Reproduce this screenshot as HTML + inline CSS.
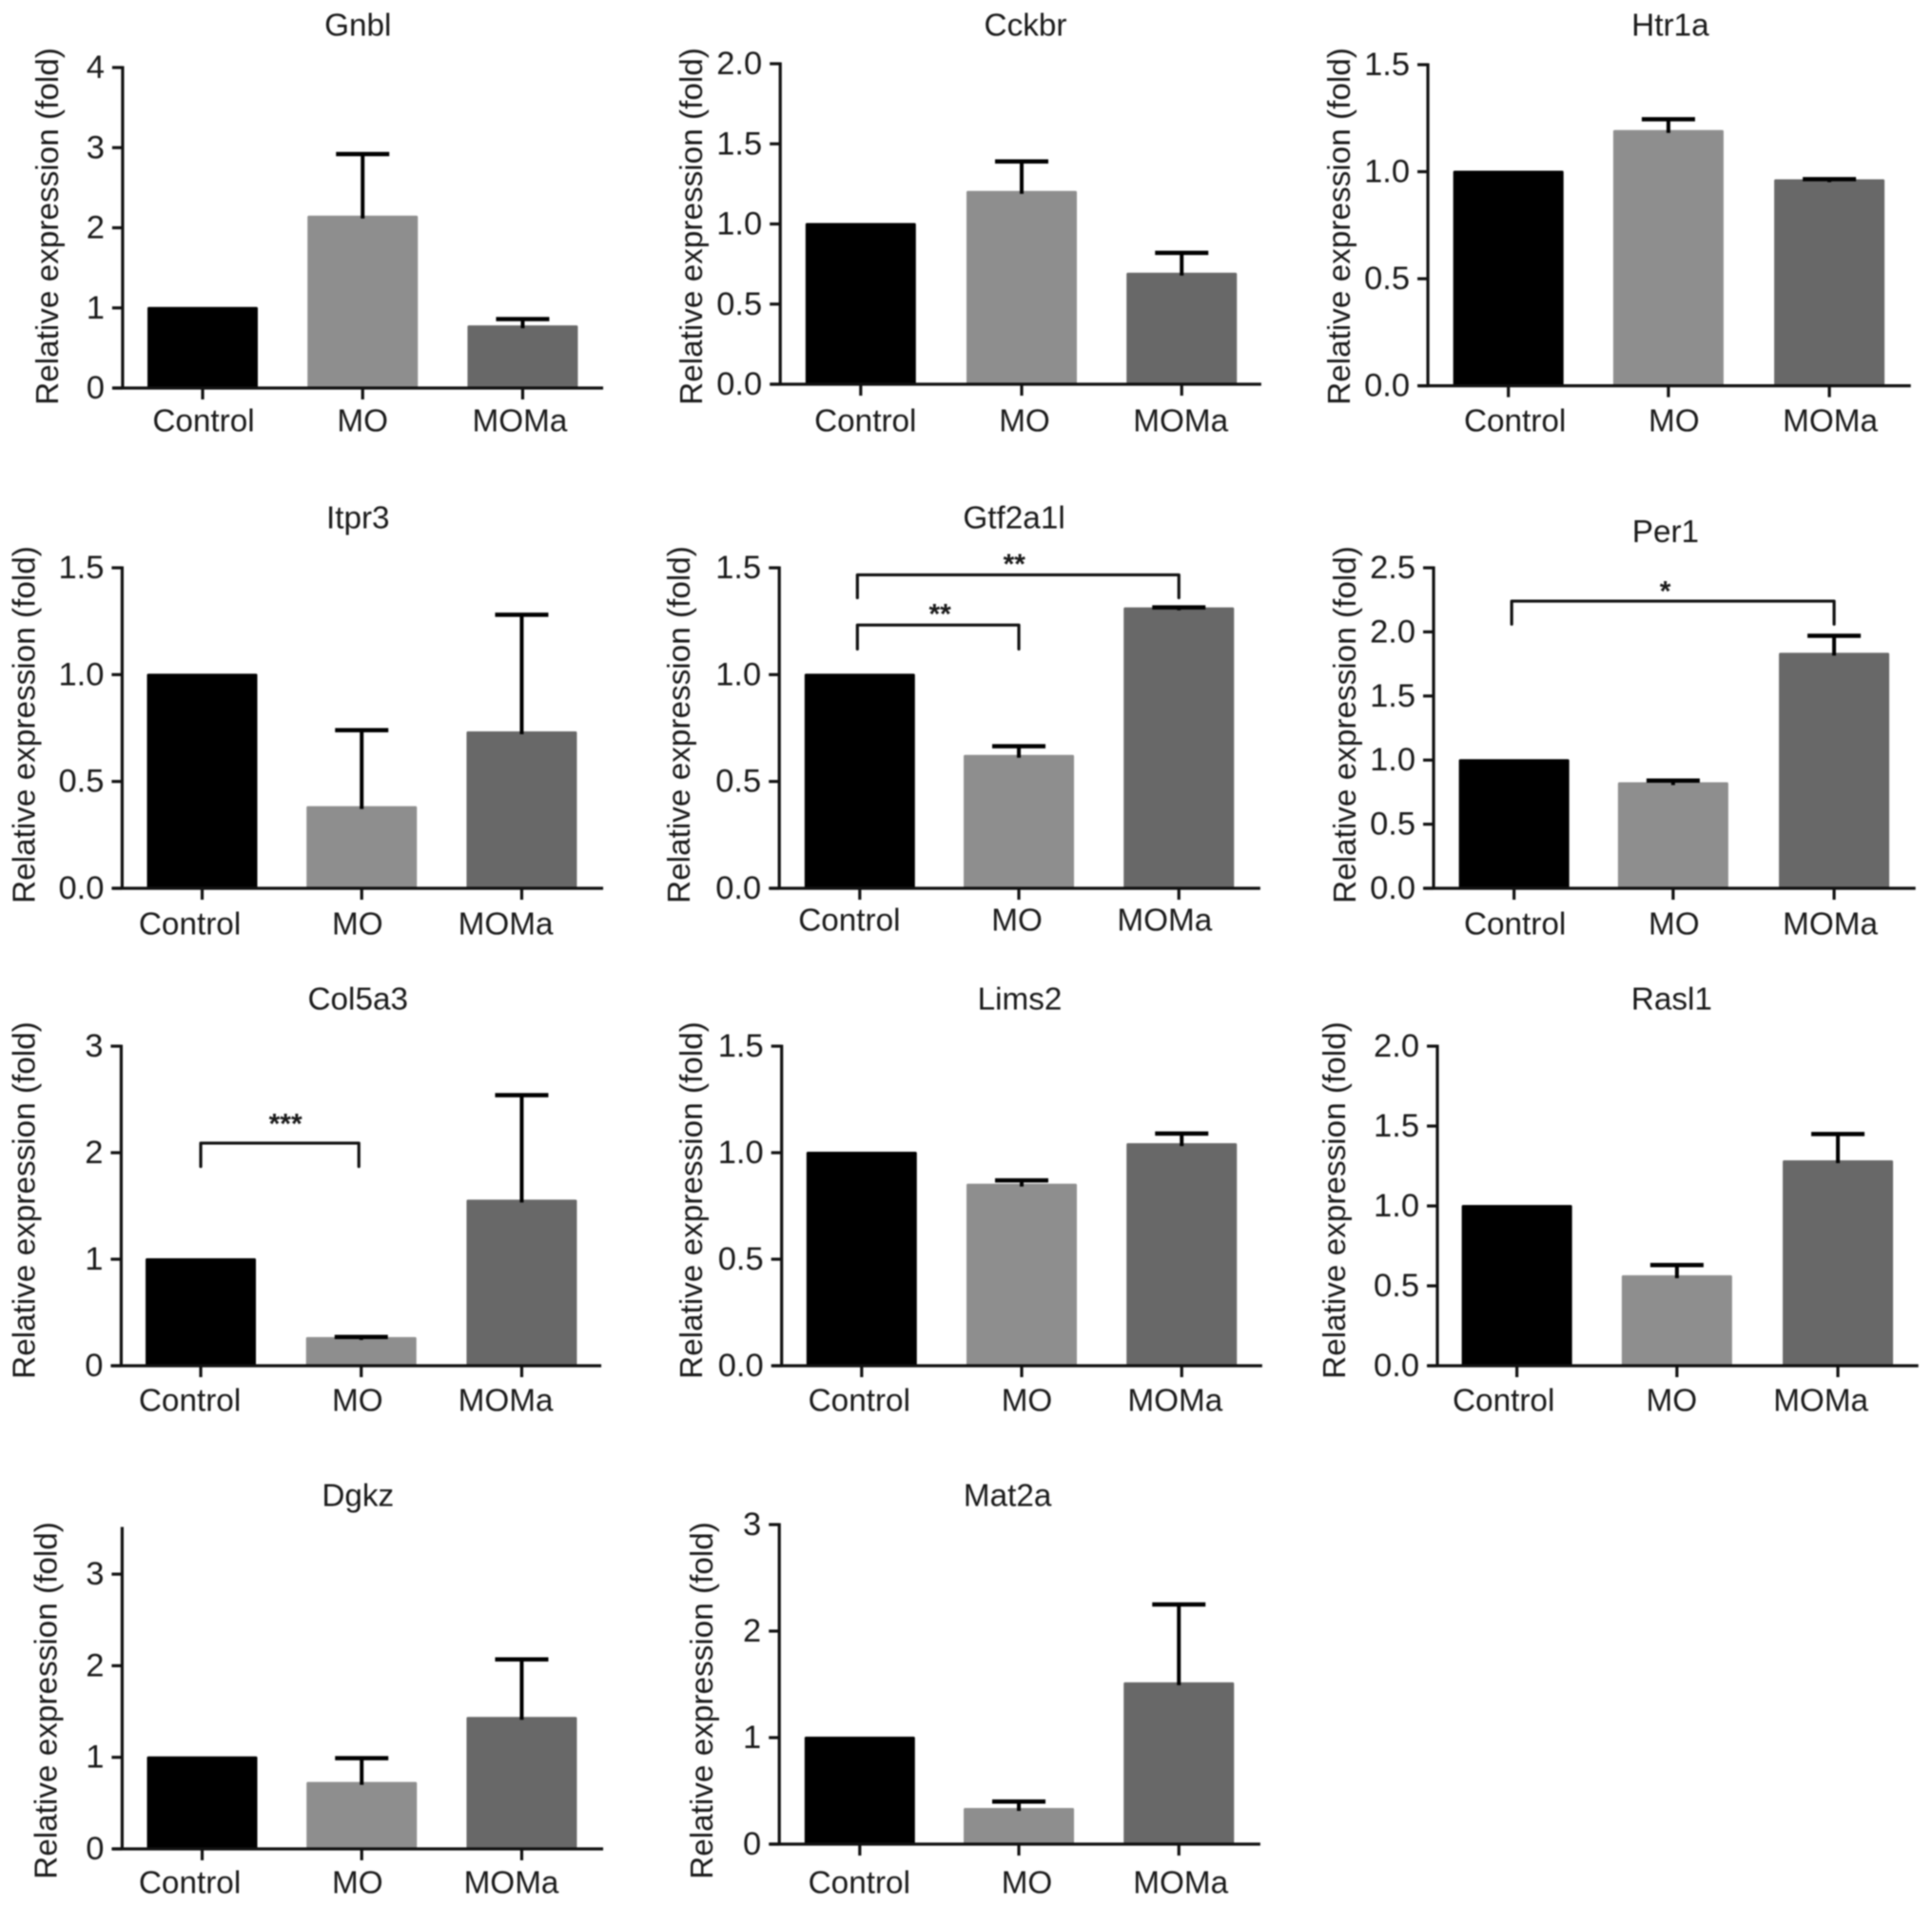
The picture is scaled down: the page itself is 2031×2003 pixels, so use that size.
<!DOCTYPE html>
<html lang="en">
<head>
<meta charset="utf-8">
<title>Relative expression bar charts</title>
<style>
html,body{margin:0;padding:0;background:#fff;width:2031px;height:2003px;overflow:hidden}
svg{display:block;filter:blur(0.7px)}
text{font-family:"Liberation Sans",Arial,sans-serif;fill:#1a1a1a}
</style>
</head>
<body>
<svg id="figure" xmlns="http://www.w3.org/2000/svg" width="2031" height="2003" viewBox="0 0 2031 2003"></svg>
<script>
const categories = ['Control', 'MO', 'MOMa'];
const barColors = ['#000000', '#8e8e8e', '#686868'];

const gnblValues = [1, 2.14, 0.77];
const gnblErrorTops = [null, 2.92, 0.86];
const gnblTicks = [0, 1, 2, 3, 4];

const cckbrValues = [1, 1.2, 0.69];
const cckbrErrorTops = [null, 1.39, 0.82];
const cckbrTicks = ['0.0', '0.5', '1.0', '1.5', '2.0'];

const htr1aValues = [1, 1.19, 0.96];
const htr1aErrorTops = [null, 1.245, 0.965];
const htr1aTicks = ['0.0', '0.5', '1.0', '1.5'];

const itpr3Values = [1, 0.38, 0.73];
const itpr3ErrorTops = [null, 0.74, 1.28];
const itpr3Ticks = ['0.0', '0.5', '1.0', '1.5'];

const gtf2a1lValues = [1, 0.62, 1.31];
const gtf2a1lErrorTops = [null, 0.665, 1.315];
const gtf2a1lTicks = ['0.0', '0.5', '1.0', '1.5'];

const per1Values = [1, 0.82, 1.83];
const per1ErrorTops = [null, 0.84, 1.97];
const per1Ticks = ['0.0', '0.5', '1.0', '1.5', '2.0', '2.5'];

const col5a3Values = [1, 0.26, 1.55];
const col5a3ErrorTops = [null, 0.27, 2.54];
const col5a3Ticks = [0, 1, 2, 3];

const lims2Values = [1, 0.85, 1.04];
const lims2ErrorTops = [null, 0.87, 1.09];
const lims2Ticks = ['0.0', '0.5', '1.0', '1.5'];

const rasl1Values = [1, 0.56, 1.28];
const rasl1ErrorTops = [null, 0.63, 1.45];
const rasl1Ticks = ['0.0', '0.5', '1.0', '1.5', '2.0'];

const dgkzValues = [1, 0.72, 1.43];
const dgkzErrorTops = [null, 0.99, 2.07];
const dgkzTicks = [0, 1, 2, 3];

const mat2aValues = [1, 0.33, 1.51];
const mat2aErrorTops = [null, 0.4, 2.25];
const mat2aTicks = [0, 1, 2, 3];

const gtf2a1lBrackets = [
  {from: 0, to: 2, level: 1.467, low: 1.36, stars: '**'},
  {from: 0, to: 1, level: 1.232, low: 1.12, stars: '**'}
];
const per1Brackets = [
  {from: 0, to: 2, level: 2.24, low: 2.06, stars: '*'}
];
const col5a3Brackets = [
  {from: 0, to: 1, level: 2.09, low: 1.87, stars: '***'}
];

const panels = [
  {title: 'Gnbl', slug: 'gnbl', values: gnblValues, errs: gnblErrorTops, ticks: gnblTicks, max: 4,
   ax: 129.5, base: 408, top: 71, right: 637, centers: [214, 383, 552],
   lab: [215, 383, 549], labY: 442, titleX: 378, titleY: 26, ylX: 49.5, ylY: 238},
  {title: 'Cckbr', slug: 'cckbr', values: cckbrValues, errs: cckbrErrorTops, ticks: cckbrTicks, max: 2,
   ax: 824, base: 404, top: 67, right: 1332, centers: [909, 1079, 1248],
   lab: [914, 1082, 1247], labY: 442, titleX: 1083, titleY: 26, ylX: 730, ylY: 238},
  {title: 'Htr1a', slug: 'htr1a', values: htr1aValues, errs: htr1aErrorTops, ticks: htr1aTicks, max: 1.5,
   ax: 1508, base: 405.6, top: 68, right: 2018, centers: [1593, 1762, 1932],
   lab: [1600, 1768, 1933], labY: 442, titleX: 1764, titleY: 26, ylX: 1414, ylY: 238},
  {title: 'Itpr3', slug: 'itpr3', values: itpr3Values, errs: itpr3ErrorTops, ticks: itpr3Ticks, max: 1.5,
   ax: 129, base: 934, top: 597, right: 637, centers: [213.5, 382, 551],
   lab: [200.5, 377.6, 534], labY: 971, titleX: 378, titleY: 544, ylX: 25, ylY: 762},
  {title: 'Gtf2a1l', slug: 'gtf2a1l', values: gtf2a1lValues, errs: gtf2a1lErrorTops, ticks: gtf2a1lTicks, max: 1.5,
   ax: 823, base: 934, top: 597, right: 1331, centers: [908, 1076, 1245], brackets: gtf2a1lBrackets,
   starOffsets: [[-4, 18], [2, 18]], bracketInset: [-2.5, 0],
   lab: [897, 1074, 1230], labY: 967, titleX: 1071, titleY: 544, ylX: 717, ylY: 762},
  {title: 'Per1', slug: 'per1', values: per1Values, errs: per1ErrorTops, ticks: per1Ticks, max: 2.5,
   ax: 1514, base: 934, top: 597, right: 2023, centers: [1599, 1767, 1937], brackets: per1Brackets,
   starOffsets: [[-8, 17]], bracketInset: [-2.5, 0],
   lab: [1600, 1768, 1933], labY: 971, titleX: 1759, titleY: 558.6, ylX: 1420, ylY: 762},
  {title: 'Col5a3', slug: 'col5a3', values: col5a3Values, errs: col5a3ErrorTops, ticks: col5a3Ticks, max: 3,
   ax: 128, base: 1436, top: 1100, right: 635, centers: [212, 381.5, 551], brackets: col5a3Brackets,
   starOffsets: [[6, 27]], bracketInset: [0, -2.5],
   lab: [200.5, 377.6, 534], labY: 1472, titleX: 378, titleY: 1050, ylX: 25, ylY: 1262},
  {title: 'Lims2', slug: 'lims2', values: lims2Values, errs: lims2ErrorTops, ticks: lims2Ticks, max: 1.5,
   ax: 825.5, base: 1436, top: 1100, right: 1333, centers: [910, 1079, 1248],
   lab: [907.5, 1084.5, 1241], labY: 1472, titleX: 1077, titleY: 1050, ylX: 730, ylY: 1262},
  {title: 'Rasl1', slug: 'rasl1', values: rasl1Values, errs: rasl1ErrorTops, ticks: rasl1Ticks, max: 2,
   ax: 1518, base: 1436, top: 1100, right: 2026, centers: [1602, 1771, 1941],
   lab: [1588, 1765.5, 1923], labY: 1472, titleX: 1765.5, titleY: 1050, ylX: 1409, ylY: 1262},
  {title: 'Dgkz', slug: 'dgkz', values: dgkzValues, errs: dgkzErrorTops, ticks: dgkzTicks, max: 3.5,
   ax: 129, base: 1944, top: 1607, right: 637, centers: [213.5, 382, 551],
   lab: [200.5, 377.6, 540], labY: 1979, titleX: 378, titleY: 1572, ylX: 48, ylY: 1788},
  {title: 'Mat2a', slug: 'mat2a', values: mat2aValues, errs: mat2aErrorTops, ticks: mat2aTicks, max: 3,
   ax: 823, base: 1939, top: 1603, right: 1331, centers: [908, 1076, 1245],
   lab: [907.5, 1084.5, 1247], labY: 1979, titleX: 1064, titleY: 1572, ylX: 741, ylY: 1788}
];

const NS = 'http://www.w3.org/2000/svg';
const svg = document.getElementById('figure');
const FONT = 33.3;
const TICK_FONT = 34.5;
const BAR_W = 116;
const CAP_W = 56;
const X = x => x * 0.9954;

function make(parent, tag, attrs, text) {
  const el = document.createElementNS(NS, tag);
  for (const k in attrs) el.setAttribute(k, attrs[k]);
  if (text !== undefined) el.textContent = text;
  parent.appendChild(el);
  return el;
}

function drawPanel(p) {
  const yScale = v => p.base - (v / p.max) * (p.base - p.top);
  const ax = X(p.ax);
  const g = make(svg, 'g', {});
  
  

  const title = make(g, 'text', {x: X(p.titleX), y: p.titleY + 11.5, 'text-anchor': 'middle', 'font-size': FONT}, p.title);
  
  

  const yl = make(g, 'text', {x: 0, y: 0, 'text-anchor': 'middle', 'font-size': FONT,
    transform: 'translate(' + (X(p.ylX) + 11.5) + ' ' + p.ylY + ') rotate(-90)'}, 'Relative expression (fold)');
  
  

  p.values.forEach((v, i) => {
    const top = yScale(v) - 1;
    const cx = X(p.centers[i]);
    const bar = make(g, 'rect', {x: cx - BAR_W / 2, y: top, width: BAR_W, height: p.base - top, fill: barColors[i], rx: 1.5});
    
    

    if (p.errs[i] !== null) {
      const et = yScale(p.errs[i]);
      const stem = make(g, 'line', {x1: cx, x2: cx, y1: top + 3, y2: et, stroke: '#000', 'stroke-width': 4});
      
      
      const cap = make(g, 'line', {x1: cx - CAP_W / 2, x2: cx + CAP_W / 2, y1: et, y2: et, stroke: '#000', 'stroke-width': 4.5});
      
      
    }
  });

  const yAxis = make(g, 'line', {x1: ax, x2: ax, y1: p.top - 1.5, y2: p.base + 1.5, stroke: '#111', 'stroke-width': 3.2});
  
  
  const xAxis = make(g, 'line', {x1: ax - 10, x2: X(p.right), y1: p.base, y2: p.base, stroke: '#111', 'stroke-width': 3.2});
  
  

  p.ticks.forEach(t => {
    const y = yScale(Number(t));
    const tick = make(g, 'line', {x1: ax - 11, x2: ax, y1: y, y2: y, stroke: '#111', 'stroke-width': 3.2});
    
    
    const lab = make(g, 'text', {x: ax - 19, y: y + 11, 'text-anchor': 'end', 'font-size': TICK_FONT}, String(t));
    
    
  });

  categories.forEach((c, i) => {
    const cx = X(p.centers[i]);
    const tick = make(g, 'line', {x1: cx, x2: cx, y1: p.base, y2: p.base + 12, stroke: '#111', 'stroke-width': 3.2});
    
    
    const lab = make(g, 'text', {x: X(p.lab[i]), y: p.labY + 11.5, 'text-anchor': 'middle', 'font-size': FONT}, c);
    
    
  });

  (p.brackets || []).forEach((b, n) => {
    const x1 = X(p.centers[b.from]) + p.bracketInset[0];
    const x2 = X(p.centers[b.to]) + p.bracketInset[1];
    const yT = yScale(b.level);
    const yL = yScale(b.low);
    const path = make(g, 'polyline', {points: x1 + ',' + yL + ' ' + x1 + ',' + yT + ' ' + x2 + ',' + yT + ' ' + x2 + ',' + yL,
      fill: 'none', stroke: '#111', 'stroke-width': 3.2, 'stroke-linecap': 'round', 'stroke-linejoin': 'round'});
    
    
    const off = p.starOffsets[n];
    const star = make(g, 'text', {x: (x1 + x2) / 2 + off[0], y: yT - off[1] + 16.5, 'text-anchor': 'middle', 'font-size': 30, 'font-weight': 'bold'}, b.stars);
    
    
  });
}

panels.forEach(drawPanel);
</script>
</body>
</html>
